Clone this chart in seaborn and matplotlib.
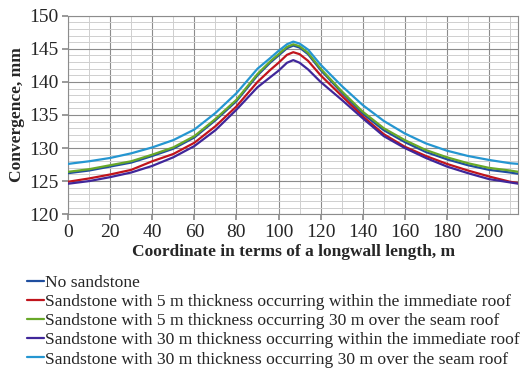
import matplotlib
matplotlib.use("Agg")
import matplotlib.pyplot as plt
from matplotlib.ticker import MultipleLocator
import seaborn as sns
import pandas as pd

x = [0, 10, 20, 30, 40, 50, 60, 70, 80, 90, 96, 100, 104, 107, 110, 114, 120, 130, 140, 150, 160, 170, 180, 190,
     200, 210, 214]

no_sandstone = [126.2, 126.6, 127.2, 127.8, 128.8, 129.9, 131.6, 134.2, 137.1, 141.0, 142.9, 144.0, 145.1, 145.5,
                145.2, 144.2, 141.8, 138.4, 135.2, 132.7, 130.9, 129.4, 128.3, 127.4, 126.7, 126.3, 126.1]
s5_immediate = [124.9, 125.4, 126.0, 126.7, 128.0, 129.1, 130.8, 133.3, 136.3, 140.0, 141.8, 142.9, 144.1, 144.5,
                144.2, 143.2, 141.0, 137.9, 134.8, 132.1, 130.2, 128.8, 127.6, 126.6, 125.7, 124.9, 124.7]
s5_over30 = [126.4, 126.8, 127.4, 128.0, 129.0, 130.1, 131.8, 134.4, 137.3, 141.2, 143.1, 144.2, 145.3, 145.7,
             145.4, 144.4, 142.0, 138.6, 135.5, 133.0, 131.2, 129.7, 128.6, 127.7, 127.0, 126.6, 126.4]
s30_immediate = [124.6, 125.0, 125.6, 126.3, 127.3, 128.6, 130.3, 132.7, 135.8, 139.2, 140.7, 141.7, 142.9, 143.3,
                 142.9, 141.9, 140.0, 137.3, 134.5, 131.8, 130.0, 128.5, 127.2, 126.2, 125.3, 124.8, 124.6]
s30_over30 = [127.6, 128.0, 128.5, 129.2, 130.1, 131.2, 132.8, 135.3, 138.3, 142.0, 143.6, 144.7, 145.7, 146.1,
              145.8, 144.9, 142.6, 139.4, 136.5, 134.1, 132.2, 130.7, 129.6, 128.8, 128.2, 127.7, 127.6]

labels = ["No sandstone",
          "Sandstone with 5 m thickness occurring within the immediate roof",
          "Sandstone with 5 m thickness occurring 30 m over the seam roof",
          "Sandstone with 30 m thickness occurring within the immediate roof",
          "Sandstone with 30 m thickness occurring 30 m over the seam roof"]
series = [no_sandstone, s5_immediate, s5_over30, s30_immediate, s30_over30]
colors = ["#1f4e9f", "#c0141c", "#68a828", "#40279a", "#2596d1"]

df = pd.concat([pd.DataFrame({"x": x, "y": s, "series": lab}) for s, lab in zip(series, labels)],
               ignore_index=True)

sns.set_theme(style="white")
plt.rcParams["font.family"] = ["Liberation Serif", "DejaVu Serif"]

fig = plt.figure(figsize=(5.2, 3.77), dpi=100)
ax = fig.add_axes([0.131, 0.432, 0.866, 0.526])

sns.lineplot(data=df, x="x", y="y", hue="series", palette=colors, hue_order=labels,
             linewidth=1.6, ax=ax, legend=False, zorder=3)

ax.set_xlim(0, 214)
ax.set_ylim(120, 150)
ax.xaxis.set_major_locator(MultipleLocator(20))
ax.xaxis.set_minor_locator(MultipleLocator(10))
ax.yaxis.set_major_locator(MultipleLocator(5))
ax.yaxis.set_minor_locator(MultipleLocator(1))
ax.grid(which="major", color="#8c8c8c", linewidth=0.8)
ax.grid(which="minor", color="#cfcfcf", linewidth=0.7)
ax.set_axisbelow(True)
for sp in ax.spines.values():
    sp.set_color("#8c8c8c")
    sp.set_linewidth(0.8)
ax.tick_params(axis="both", which="major", labelsize=14, length=4, color="#8c8c8c", pad=3,
               left=True, bottom=True)
ax.tick_params(axis="both", which="minor", length=0)

ax.set_xlabel("Coordinate in terms of a longwall length, m", fontsize=12.5, fontweight="bold", labelpad=2)
ax.set_ylabel("Convergence, mm", fontsize=12.5, fontweight="bold", labelpad=3)

handles = [plt.Line2D([0], [0], color=c, linewidth=1.6) for c in colors]
fig.legend(handles, labels, loc="upper left", bbox_to_anchor=(0.052, 0.272), frameon=False,
           fontsize=12.6, handlelength=0.95, handletextpad=0.1, labelspacing=0.17, borderaxespad=0,
           borderpad=0)

fig.savefig("out.png", dpi=100)
